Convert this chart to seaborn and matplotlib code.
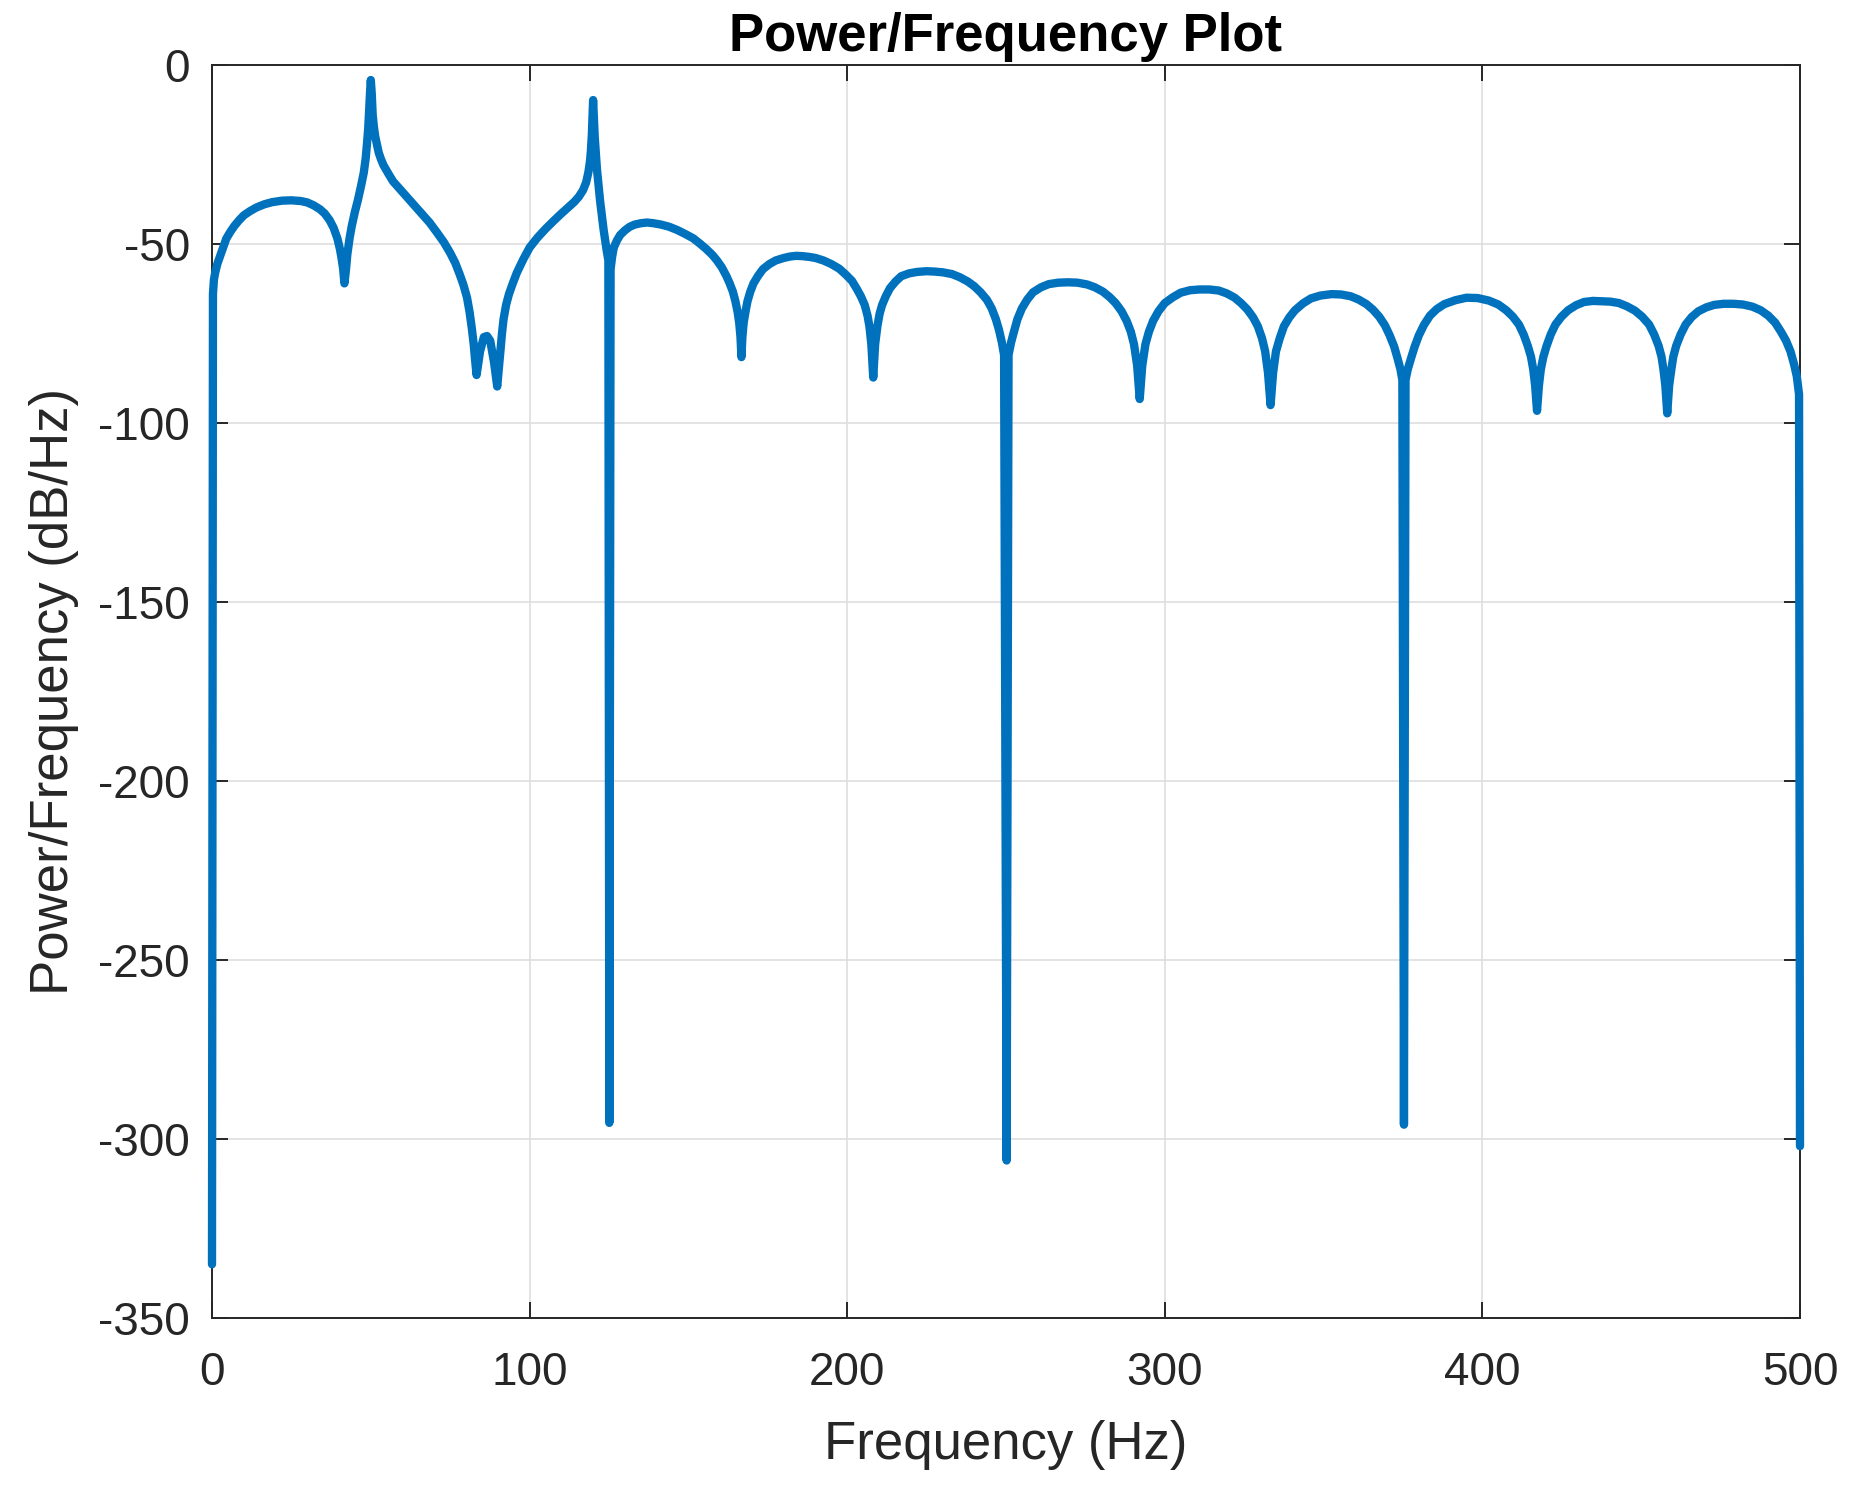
import matplotlib
matplotlib.use("Agg")
import matplotlib.pyplot as plt
import seaborn as sns
import pandas as pd

# ---- data (each line of freq matches the same line of psd) ----
freq_hz = [
    0, 0.3, 0.6, 1.0, 1.7, 2.5, 3.5, 4.5, 5.7, 7, 8.5, 10, 12, 14, 16.5, 19, 22, 25, 28, 30,
    32, 34, 35.5, 37, 38.3, 39.5, 40.3, 40.8, 41.3, 41.7,
    42.2, 42.6, 43.3, 44, 45, 46, 47, 47.8, 48.4, 48.8, 49.2, 49.5, 49.8, 50, 50.3, 50.6,
    51, 51.4, 52, 52.5, 53.2, 54, 55.5, 57, 59, 61, 63.5, 66, 68.5, 71, 73, 75, 76.6, 78,
    79.2, 80.3, 81.1, 81.8, 82.4, 82.8, 83.3,
    84.4, 85.6, 86.6, 87.6, 88.8, 89.8,
    90.3, 90.8, 91.3, 91.8, 92.6, 93.5, 94.7, 96, 98, 100, 102.5, 105, 107.5, 110, 112,
    114, 115.5, 116.8, 117.8, 118.5, 119, 119.3, 119.6, 119.8, 120,
    120.5, 121.2, 122.2, 123.3, 124.3, 124.8, 125.1, 125.5, 126, 126.5, 127.5, 128.5, 130,
    131.5, 133, 135, 137, 139, 141.5, 144, 146.5, 149, 151.5, 153.5, 155.5, 157.5, 159,
    160.5, 162, 163, 164, 164.8, 165.5, 166, 166.4, 166.7,
    167.0, 167.4, 168, 168.6, 169.5, 170.5, 172, 173.5, 175.5, 177.5, 180, 182, 184, 186,
    188, 190, 192.5, 195, 197.5, 199.5, 201.5, 203, 204.3, 205.5, 206.4, 207, 207.6, 208.2,
    208.8, 209.5, 210.2, 211, 212.2, 213.5, 215.2, 217, 219.5, 222, 225, 227.5, 230, 233,
    235.5, 238, 240, 242, 244, 245.5, 246.8, 247.8, 248.7, 249.4, 250.2,
    250.8, 251.6, 252.5, 253.6, 255, 256.7, 258.5, 261, 263.5, 266.5, 269.5, 272.5, 275.5,
    278, 280.5, 282.6, 284.5, 286.4, 288, 289.3, 290.3, 291.3, 292.1,
    292.9, 293.9, 295, 296.3, 298, 300, 302.5, 305, 308, 311, 314, 317, 319.5, 322, 324,
    326, 327.8, 329.3, 330.6, 331.6, 332.5, 333.3,
    334.1, 335, 336.2, 337.5, 339.2, 341, 343.5, 346, 349, 352.5, 355.5, 358.5, 361, 363.5,
    365.6, 367.5, 369.3, 370.8, 372.2, 373.3, 374.2, 374.8, 375.3,
    375.8, 376.5, 377.5, 378.7, 380, 381.6, 383.5, 385.6, 388, 391.5, 395, 398.5, 402, 405,
    407.5, 409.6, 411.5, 413, 414.3, 415.3, 416, 416.6, 417.2,
    417.8, 418.4, 419.2, 420.2, 421.5, 423, 424.9, 427, 429.5, 432, 434.8, 437.5, 440.3,
    443, 445.5, 448, 450.3, 452.5, 454.1, 455.5, 456.4, 457, 457.6, 458.2,
    458.8, 459.5, 460.1, 461, 462.4, 464, 465.9, 468, 470.5, 473, 476, 479, 482, 485,
    487.6, 490, 492.2, 494, 495.6, 497, 498.1, 499, 499.7, 500,
]
psd_db = [
    -335, -64, -60, -58, -55.5, -53.5, -51, -48.5, -46.7, -45, -43.4, -42, -40.8, -39.8,
    -38.9, -38.3, -37.9, -37.8, -38.0, -38.4, -39.2, -40.3, -41.5, -43.3, -45.5, -48.5,
    -51.5, -54, -57, -61,
    -57, -53, -48.5, -45, -41, -37.5, -33.5, -30, -26, -22, -17.5, -12, -7, -4.2, -8, -14,
    -17.5, -20, -22.5, -24.5, -26.3, -28, -30.3, -32.5, -34.5, -36.5, -39, -41.5, -44, -47,
    -49.5, -52.5, -55.3, -58.5, -61.5, -65, -69, -73.5, -78, -82, -86.6,
    -80, -76, -75.7, -77, -83, -89.8,
    -85, -80, -75, -71, -67, -64, -61, -58, -54.3, -51, -48.2, -45.8, -43.6, -41.5, -39.9,
    -38.3, -36.8, -35, -32.8, -30, -27, -24, -19.5, -15, -9.8,
    -20, -29, -38, -46, -52, -54.5, -295.5, -57, -53.5, -51, -49, -47.5, -46.2, -45.2,
    -44.6, -44.2, -44.0, -44.2, -44.6, -45.2, -46.1, -47.2, -48.4, -49.8, -51.3, -53,
    -54.6, -56.5, -59, -61, -63.3, -66, -69, -72, -76, -81.6,
    -76, -72, -68.8, -66, -63.3, -61, -58.8, -57, -55.6, -54.6, -53.9, -53.5, -53.3,
    -53.4, -53.6, -53.9, -54.6, -55.6, -56.9, -58.5, -60.3, -62.5, -64.6, -67, -70, -73,
    -78, -87.3,
    -78, -73, -69.5, -67, -64.5, -62.3, -60.5, -59, -58.2, -57.8, -57.6, -57.7, -57.9,
    -58.4, -59.3, -60.5, -61.8, -63.5, -65.6, -68, -71, -74, -77.5, -81, -306,
    -81, -77.5, -74.5, -71, -68, -65.5, -63.5, -62.1, -61.2, -60.8, -60.7, -60.8, -61.3,
    -62.1, -63.3, -64.8, -66.5, -68.8, -71.5, -74.5, -78, -84, -93.3,
    -84, -78, -74.5, -71.5, -68.8, -66.5, -64.9, -63.6, -62.9, -62.7, -62.7, -63, -63.8,
    -65, -66.5, -68.3, -70.5, -73, -76.3, -80, -86, -95,
    -86, -80, -76.3, -73, -70.5, -68.5, -66.6, -65.2, -64.4, -64, -64.1, -64.6, -65.5,
    -66.8, -68.4, -70.3, -72.7, -75.5, -78.6, -82, -85, -88, -296,
    -88, -85, -82, -78.6, -75.5, -72.6, -70, -68.2, -66.8, -65.7, -65, -65.1, -65.8,
    -66.9, -68.5, -70.3, -72.5, -75.3, -78.5, -81.5, -85, -89.5, -96.6,
    -89.5, -85, -81.5, -78.5, -75.3, -72.5, -70.3, -68.5, -67.1, -66.2, -65.9, -66, -66.1,
    -66.5, -67.4, -68.6, -70.3, -72.5, -75.3, -78.5, -81.5, -85, -89.5, -97.3,
    -89.5, -85, -81.5, -78.5, -75.3, -72.5, -70.4, -68.8, -67.7, -67, -66.7, -66.7, -66.9,
    -67.5, -68.5, -70, -72, -74.5, -77, -80, -83.5, -87, -92, -302,
]
assert len(freq_hz) == len(psd_db)
x_ticks = [0, 100, 200, 300, 400, 500]
y_ticks = [-350, -300, -250, -200, -150, -100, -50, 0]

df = pd.DataFrame({"Frequency (Hz)": freq_hz, "Power/Frequency (dB/Hz)": psd_db})

sns.set_theme(style="white")
plt.rcParams["font.family"] = ["Liberation Sans", "DejaVu Sans"]

dark = "#262626"
fig = plt.figure(figsize=(1865 / 200, 1486 / 200), dpi=200)
ax = fig.add_axes([212 / 1865, 1 - 1318 / 1486, (1800 - 212) / 1865, (1318 - 65) / 1486])

sns.lineplot(data=df, x="Frequency (Hz)", y="Power/Frequency (dB/Hz)", ax=ax,
             sort=False, estimator=None, color="#0072BD", linewidth=3.0,
             clip_on=False, zorder=5)
for ln in ax.lines:
    ln.set_solid_joinstyle("round")
    ln.set_solid_capstyle("round")

ax.set_xlim(0, 500)
ax.set_ylim(-350, 0)
ax.set_xticks(x_ticks)
ax.set_yticks(y_ticks)
ax.set_xticklabels([str(v) for v in x_ticks])
ax.set_yticklabels([str(v) for v in y_ticks])

ax.grid(True, color="#dedede", linewidth=0.6)
ax.set_axisbelow(True)
for s in ax.spines.values():
    s.set_visible(True)
    s.set_color(dark)
    s.set_linewidth(0.7)
    s.set_zorder(4)

ax.tick_params(axis="both", which="both", direction="in", length=5.8, width=0.7,
               color=dark, labelcolor=dark, labelsize=16.5, top=True, right=True,
               bottom=True, left=True)
ax.tick_params(axis="x", pad=12)
ax.tick_params(axis="y", pad=8)

ax.set_xlabel("Frequency (Hz)", fontsize=19, color=dark, labelpad=9)
ax.set_ylabel("Power/Frequency (dB/Hz)", fontsize=19, color=dark, labelpad=7)
ax.set_title("Power/Frequency Plot", fontsize=19, fontweight="bold", color="black", pad=5)

fig.savefig("out.png", dpi=200, facecolor="white")
